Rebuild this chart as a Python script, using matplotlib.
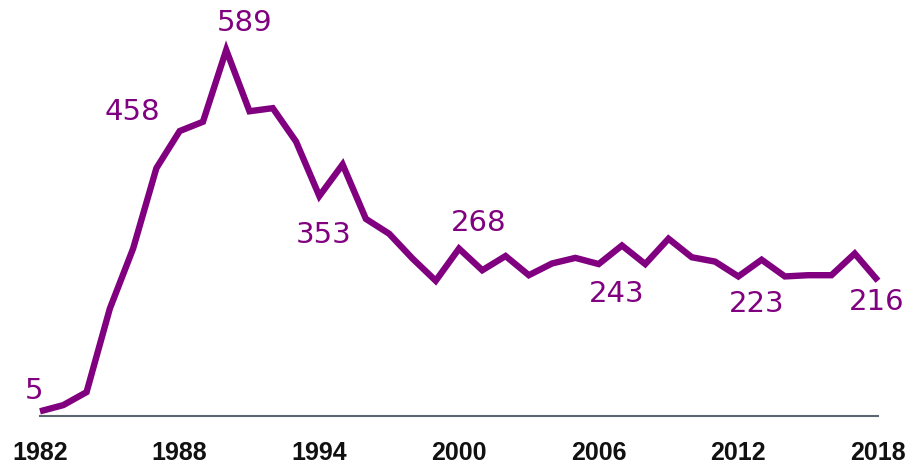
import matplotlib
matplotlib.use("Agg")
import matplotlib.pyplot as plt

years = list(range(1982, 2019))
values = [5, 15, 36, 171, 268, 398, 458, 473, 589, 490, 495, 441, 353, 404,
          316, 292, 252, 216, 268, 233, 256, 225, 244, 253, 243, 273, 243, 284,
          254, 247, 223, 250, 223, 225, 225, 260, 216]

tick_years = [1982, 1988, 1994, 2000, 2006, 2012, 2018]

label_years = [1982, 1988, 1990, 1994, 2000, 2006, 2012, 2018]
label_offsets = [(-6, 20), (-47, 19), (18, 27), (4, -39), (20, 26), (18, -30), (18, -28), (-1, -21)]

purple = "#800080"

fig = plt.figure(figsize=(9.13, 4.68), dpi=100)
ax = fig.add_axes([40 / 913, (468 - 414.4) / 468, (878 - 40) / 913, (414.4 - 43.2) / 468])

ax.plot(years, values, color=purple, lw=4.6, solid_joinstyle="miter",
        solid_capstyle="butt", clip_on=False, zorder=3)

ax.set_xlim(1982, 2018)
ax.set_ylim(0, 600)

for s in ["top", "right", "left"]:
    ax.spines[s].set_visible(False)
ax.spines["bottom"].set_color("#5B6670")
ax.spines["bottom"].set_linewidth(1.5)
ax.spines["bottom"].set_position(("outward", 1))
ax.set_yticks([])
ax.set_xticks(tick_years)
ax.set_xticklabels([str(t) for t in tick_years], fontsize=18, fontweight="bold",
                   family="Liberation Sans", color="#111111")
ax.tick_params(axis="x", length=0, pad=18)

for yr, (dx, dy) in zip(label_years, label_offsets):
    v = values[years.index(yr)]
    ax.annotate(str(v), xy=(yr, v), xytext=(dx, dy), textcoords="offset pixels",
                ha="center", va="center", fontsize=21, color=purple,
                family="DejaVu Sans")

fig.savefig("out.png", dpi=100)
